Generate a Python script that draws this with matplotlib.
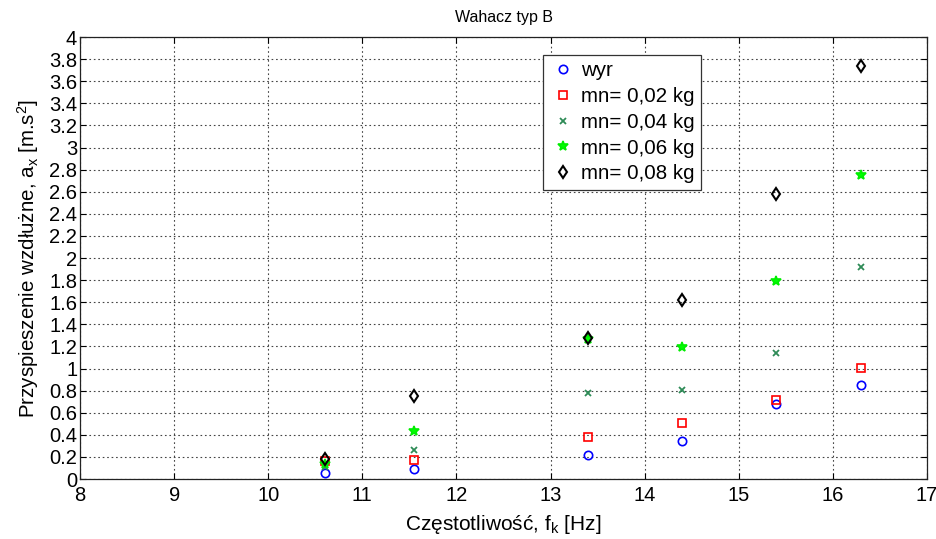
import matplotlib
matplotlib.use("Agg")
import matplotlib.pyplot as plt

plt.rcParams['font.family'] = ['Liberation Sans', 'DejaVu Sans']
plt.rcParams['mathtext.default'] = 'regular'

freq = [10.6, 11.55, 13.4, 14.4, 15.4, 16.3]
wyr = [0.057, 0.088, 0.218, 0.345, 0.677, 0.853]
mn002 = [0.163, 0.17, 0.38, 0.505, 0.714, 1.004]
mn004 = [0.11, 0.26, 0.777, 0.807, 1.14, 1.92]
mn006 = [0.135, 0.43, 1.267, 1.194, 1.796, 2.748]
mn008 = [0.18, 0.75, 1.273, 1.62, 2.576, 3.737]

labels = ['wyr', 'mn= 0,02 kg', 'mn= 0,04 kg', 'mn= 0,06 kg', 'mn= 0,08 kg']
xticks = list(range(8, 18))
yticks = [round(0.2 * i, 1) for i in range(21)]
yticklabels = ['0', '0.2', '0.4', '0.6', '0.8', '1', '1.2', '1.4', '1.6', '1.8', '2',
               '2.2', '2.4', '2.6', '2.8', '3', '3.2', '3.4', '3.6', '3.8', '4']

fig = plt.figure(figsize=(9.37, 5.39), dpi=100)
ax = fig.add_axes([0.0854, 0.1113, 0.904, 0.820])

ax.plot(freq, wyr, linestyle='none', marker='o', markersize=6, markerfacecolor='none',
        markeredgecolor='#0000ff', markeredgewidth=1.2, label=labels[0])
ax.plot(freq, mn002, linestyle='none', marker='s', markersize=5.5, markerfacecolor='none',
        markeredgecolor='#ff0000', markeredgewidth=1.2, label=labels[1])
ax.plot(freq, mn004, linestyle='none', marker='x', markersize=4, color='#2e8b57',
        markeredgewidth=1.3, label=labels[2])
ax.plot(freq, mn006, linestyle='none', marker='*', markersize=7, color='#00ff00',
        markeredgecolor='#00ee00', markeredgewidth=1.2, label=labels[3])
ax.plot(freq, mn008, linestyle='none', marker='d', markersize=6.5, markerfacecolor='none',
        markeredgecolor='black', markeredgewidth=1.5, label=labels[4])

ax.set_xlim(8, 17)
ax.set_ylim(0, 4)
ax.set_xticks(xticks)
ax.set_yticks(yticks)
ax.set_yticklabels(yticklabels)
ax.tick_params(direction='in', labelsize=14.5, length=4, top=True, right=True)
ax.tick_params(axis='y', pad=2)
ax.tick_params(axis='x', pad=5)
ax.grid(True, linestyle=(0, (1.5, 2.5)), color='#444444', linewidth=0.8)
for s in ax.spines.values():
    s.set_color('#222222')
    s.set_linewidth(0.9)

ax.set_title('Wahacz typ B', fontsize=11.5, pad=11)
ax.set_xlabel('Częstotliwość, f$_k$ [Hz]', fontsize=15, labelpad=6)
ax.set_ylabel('Przyspieszenie wzdłużne, a$_x$ [m.s$^2$]', fontsize=14.8, labelpad=6)

leg = ax.legend(loc='upper left', bbox_to_anchor=(0.547, 0.959), fontsize=14.8,
                frameon=True, fancybox=False, edgecolor='#333333', framealpha=1,
                borderpad=0.3, labelspacing=0.33, handletextpad=0.2, handlelength=1.35,
                borderaxespad=0)
leg.get_frame().set_linewidth(0.9)

fig.savefig('out.png', dpi=100)
